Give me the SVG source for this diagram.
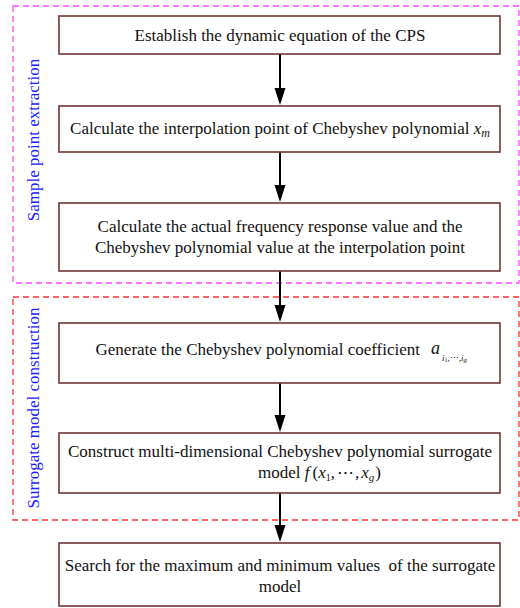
<svg xmlns="http://www.w3.org/2000/svg" width="520" height="608" viewBox="0 0 520 608">
<defs>
<style>
.box{fill:#fff;stroke:#6e3636;stroke-width:1.6}
.t{font-family:"Liberation Serif","Times New Roman",serif;font-size:17px;fill:#111}
.m{font-family:"Liberation Serif","Times New Roman",serif;font-style:italic;fill:#111}
.side{font-family:"Liberation Serif","Times New Roman",serif;font-size:17px;fill:#2020ff}
.grp1{fill:none;stroke:#ff44ff;stroke-width:1.3;stroke-dasharray:6,4}
.grp2{fill:none;stroke:#ff3030;stroke-width:1.3;stroke-dasharray:6,4}
.c{stroke:#000;stroke-width:2;fill:none}
.h{fill:#000}
</style>
</defs>
<g id="group-sample">
<rect class="grp1" x="13" y="6" width="506" height="277"/>
<text class="side" transform="translate(39,140) rotate(-90)" text-anchor="middle">Sample point extraction</text>
</g>
<g id="group-surrogate">
<rect class="grp2" x="13" y="297" width="506" height="223"/>
<text class="side" transform="translate(39,408) rotate(-90)" text-anchor="middle">Surrogate model construction</text>
</g>
<g id="connectors">
<line class="c" x1="280" y1="54" x2="280" y2="89"/>
<path class="h" d="M274.5,88 L285.5,88 L280,105 Z"/>
<line class="c" x1="280" y1="152" x2="280" y2="186"/>
<path class="h" d="M274.5,185 L285.5,185 L280,202 Z"/>
<line class="c" x1="280" y1="271" x2="280" y2="306"/>
<path class="h" d="M274.5,305 L285.5,305 L280,322 Z"/>
<line class="c" x1="280" y1="383" x2="280" y2="416"/>
<path class="h" d="M274.5,415 L285.5,415 L280,432 Z"/>
<line class="c" x1="280" y1="493" x2="280" y2="526"/>
<path class="h" d="M274.5,525 L285.5,525 L280,542 Z"/>
</g>
<g id="n1">
<rect class="box" x="59" y="16" width="441" height="38"/>
<text class="t" x="280" y="41" text-anchor="middle">Establish the dynamic equation of the CPS</text>
</g>
<g id="n2">
<rect class="box" x="59" y="106" width="441" height="46"/>
<text class="t" x="280" y="134" text-anchor="middle">Calculate the interpolation point of Chebyshev polynomial <tspan class="m">x</tspan><tspan class="m" font-size="12" dy="3">m</tspan></text>
</g>
<g id="n3">
<rect class="box" x="59" y="203" width="441" height="68"/>
<text class="t" x="280" y="232" text-anchor="middle">Calculate the actual frequency response value and the</text>
<text class="t" x="280" y="253" text-anchor="middle">Chebyshev polynomial value at the interpolation point</text>
</g>
<g id="n4">
<rect class="box" x="59" y="323" width="441" height="60"/>
<text class="t" x="420" y="355" text-anchor="end">Generate the Chebyshev polynomial coefficient</text>
<text class="m" x="431" y="354" font-size="18">a</text>
<text class="m" x="442" y="361" font-size="9">i<tspan font-style="normal" font-size="6" dy="1">1</tspan><tspan dy="-1" font-style="normal">,⋯,</tspan>i<tspan font-size="7" dy="1">g</tspan></text>
</g>
<g id="n5">
<rect class="box" x="59" y="433" width="441" height="60"/>
<text class="t" x="280" y="457" text-anchor="middle">Construct multi-dimensional Chebyshev polynomial surrogate</text>
<text class="t" x="258" y="478">model <tspan class="m">f</tspan><tspan dx="3">(</tspan><tspan class="m">x</tspan><tspan font-size="10" dy="3">1</tspan><tspan dy="-3">,</tspan><tspan dx="2">⋯</tspan><tspan dx="1">,</tspan><tspan class="m" dx="2">x</tspan><tspan class="m" font-size="11" dy="3">g</tspan><tspan dy="-3" dx="1">)</tspan></text>
</g>
<g id="n6">
<rect class="box" x="59" y="543" width="441" height="63"/>
<text class="t" x="280" y="571" text-anchor="middle" xml:space="preserve">Search for the maximum and minimum values  of the surrogate</text>
<text class="t" x="280" y="592" text-anchor="middle">model</text>
</g>
</svg>
